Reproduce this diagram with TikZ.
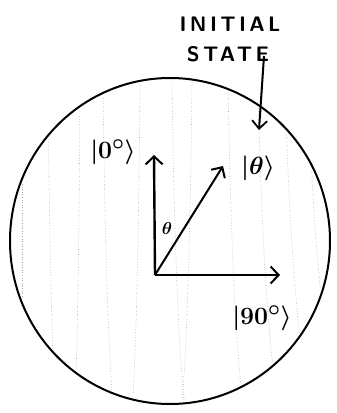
\documentclass[tikz,border=0pt]{standalone}
\usepackage{fontspec}
\usetikzlibrary{arrows.meta}
\newfontfamily\capsfont[LetterSpace=16]{Latin Modern Sans}
\tikzset{
  vec/.style={line width=2.4pt,-{Straight Barb[length=8pt,width=17pt,line width=2pt]}},
  pointer/.style={line width=2pt,-{Straight Barb[length=8pt,width=15pt,line width=1.8pt]}},
  ket/.style={font=\boldmath\fontsize{30}{32}\selectfont, inner sep=0pt},
  grain/.style={gray!70, line width=0.6pt, dotted},
  caption/.style={font=\capsfont\bfseries\fontsize{21}{23}\selectfont, inner sep=0pt}
}
\begin{document}
\begin{tikzpicture}[x=1pt,y=-1pt]
\useasboundingbox (0,0) rectangle (337,413);
% faint grain lines inside the sphere
\begin{scope}
\clip (170,241) ellipse [x radius=158, y radius=160];
\foreach \x/\b in {22/0, 48/3, 80/-2, 103/4, 140/-3, 172/5, 192/-4, 228/6, 258/8, 285/10, 308/12}{
  \draw[grain] (\x,80) .. controls (\x+\b*0.3,200) and (\x+\b,330) .. (\x+\b*2.5,405);
}
\end{scope}
% sphere outline
\draw[line width=2pt] (170,241) ellipse [x radius=160, y radius=163];
% vectors
\coordinate (O) at (155,275);
\coordinate (up) at (154,155);
\coordinate (rt) at (280,275);
\coordinate (th) at (223,166);
\draw[vec] (O) -- (up);
\draw[vec] (O) -- (rt);
\draw[line width=2pt,-{Straight Barb[length=8pt,width=16pt,line width=2pt]}] (O) -- (th);
% labels
\node[ket] (k0) at (113,152) {$|0^\circ\rangle$};
\node[ket] (kt) at (258,168) {$|\theta\rangle$};
\node[ket] (k90) at (262,318) {$|90^\circ\rangle$};
\node[font=\boldmath\fontsize{18}{20}\selectfont, inner sep=0pt] (ang) at (167,228) {$\theta$};
% initial state
\node[caption] (l1) at (230,24) {INITIAL};
\node[caption] (l2) at (228,54) {STATE};
\coordinate (ptr) at (259,130);
\draw[pointer] (264,56) -- (ptr);
\end{tikzpicture}
\end{document}
